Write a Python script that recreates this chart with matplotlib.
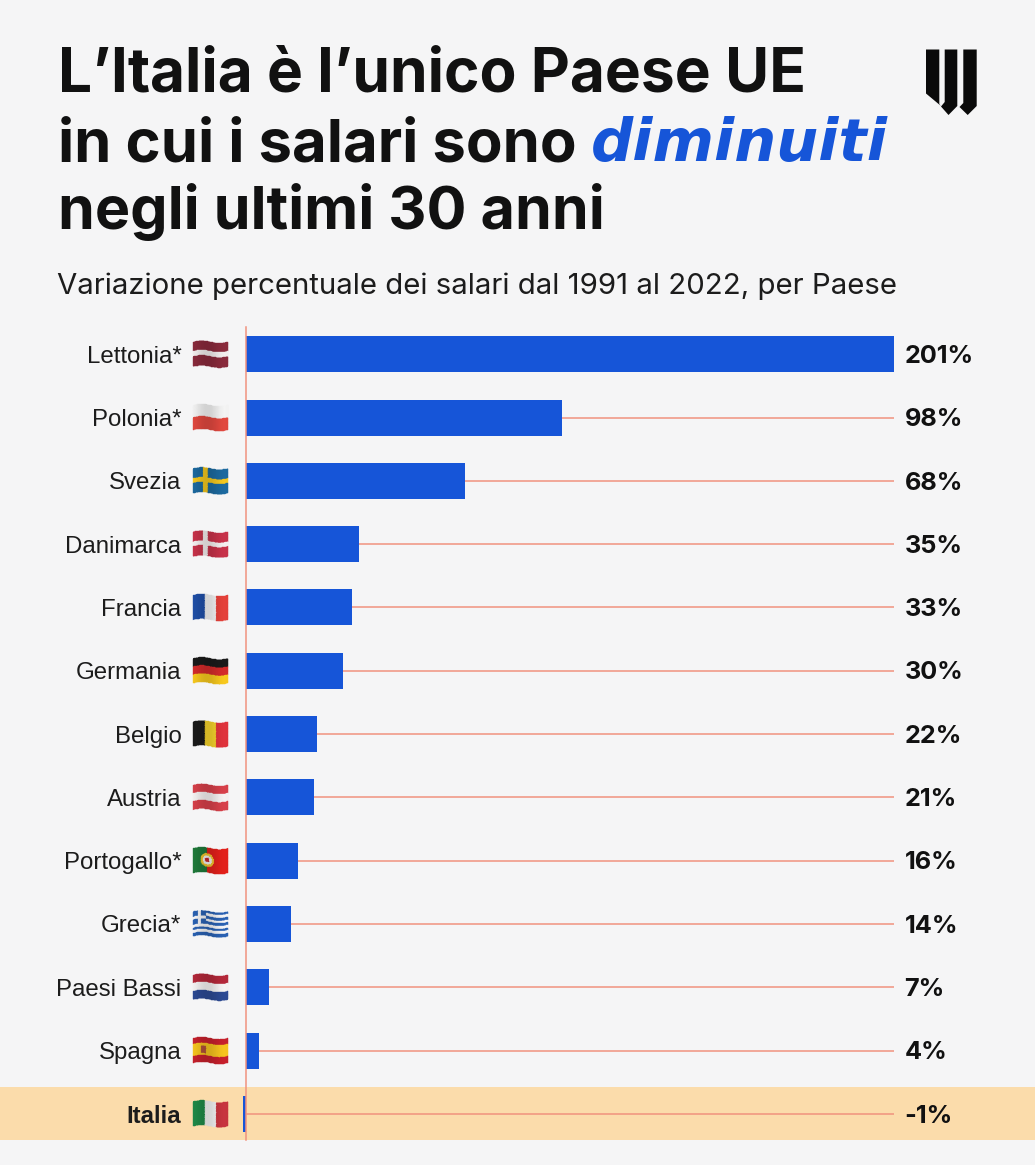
import numpy as np
import matplotlib
matplotlib.use("Agg")
import matplotlib.pyplot as plt
from matplotlib.patches import Polygon, Rectangle

W, H = 1035, 1165
BG = "#f5f5f6"
BLUE = "#1655d8"
LINE = "#f0927e"
BAND = "#fbdcab"
INK = "#111111"

countries = ["Lettonia*", "Polonia*", "Svezia", "Danimarca", "Francia", "Germania",
             "Belgio", "Austria", "Portogallo*", "Grecia*", "Paesi Bassi", "Spagna", "Italia"]
values = [201, 98, 68, 35, 33, 30, 22, 21, 16, 14, 7, 4, -1]
value_labels = ["201%", "98%", "68%", "35%", "33%", "30%", "22%", "21%", "16%", "14%", "7%", "4%", "-1%"]
flag_codes = ["lv", "pl", "se", "dk", "fr", "de", "be", "at", "pt", "gr", "nl", "es", "it"]

title_font = "Inter"
body_font = "Liberation Sans"
value_font = "Inter"


def flag_image(code):
    # paints the flag on a small grid, warped afterwards
    h, w = 42, 60
    img = np.ones((h, w, 3))
    def rgb(c):
        return np.array(matplotlib.colors.to_rgb(c))
    def hstripes(cols, fr=None):
        fr = fr or [1] * len(cols)
        edges = np.cumsum([0] + fr) / sum(fr) * h
        for k, c in enumerate(cols):
            img[int(edges[k]):int(edges[k + 1]), :] = rgb(c)
    def vstripes(cols):
        edges = np.linspace(0, w, len(cols) + 1).astype(int)
        for k, c in enumerate(cols):
            img[:, edges[k]:edges[k + 1]] = rgb(c)
    def cross(bg, c):
        img[:, :] = rgb(bg)
        img[17:25, :] = rgb(c)
        img[:, 17:25] = rgb(c)

    if code == "lv":
        hstripes(["#8a2a3c", "#f3eeee", "#8a2a3c"], [2, 1, 2])
    elif code == "pl":
        hstripes(["#f4f4f4", "#e2483f"])
    elif code == "se":
        cross("#1c6aa0", "#f5c81e")
    elif code == "dk":
        cross("#c8324a", "#f5f0f0")
    elif code == "fr":
        vstripes(["#1f4fa8", "#f7f7f7", "#e5413a"])
    elif code == "de":
        hstripes(["#1a1a1a", "#d42a2a", "#f8c91d"])
    elif code == "be":
        vstripes(["#1a1a1a", "#f8d52c", "#e0333c"])
    elif code == "at":
        hstripes(["#d8404a", "#f6f2f2", "#d8404a"])
    elif code == "pt":
        img[:, :] = rgb("#e3201b")
        img[:, :24] = rgb("#1f7a3a")
        yy, xx = np.mgrid[0:h, 0:w]
        r = np.hypot(xx - 24, yy - 21)
        img[r < 12] = rgb("#f2c62e")
        img[r < 8] = rgb("#f4f4f4")
        img[r < 4] = rgb("#c8242a")
    elif code == "gr":
        for k in range(9):
            y0 = int(k * h / 9)
            y1 = int((k + 1) * h / 9)
            img[y0:y1, :] = rgb("#2a62b4" if k % 2 == 0 else "#f6f6f8")
        img[:23, :23] = rgb("#2a62b4")
        img[:23, 9:14] = rgb("#f6f6f8")
        img[9:14, :23] = rgb("#f6f6f8")
    elif code == "nl":
        hstripes(["#b5283a", "#f6f4f4", "#2c4a94"])
    elif code == "es":
        hstripes(["#c7202c", "#f7c51e", "#c7202c"], [1, 2, 1])
        img[15:28, 14:23] = rgb("#b0503a")
    elif code == "it":
        vstripes(["#1f8a48", "#f7f7f7", "#c8343f"])
    return img


def draw_flag(ax, code, xc, yc):
    # little waving flag, 36x26 px
    img = flag_image(code)
    h, w = img.shape[:2]
    xs = np.linspace(-17.5, 17.5, w + 1)
    ys = np.linspace(-12.2, 12.2, h + 1)
    X, Y = np.meshgrid(xs, ys)
    Y = Y - 1.2 * np.sin((X + 17.5) / 35 * 2 * np.pi)
    shade = 0.93 + 0.07 * np.cos((X[:-1, :-1] + 17.5) / 35 * 2 * np.pi + 0.6)
    ax.pcolormesh(xc + X, yc + Y, np.clip(img * shade[..., None], 0, 1),
                  shading="flat", edgecolors="face", linewidth=0.25, antialiased=True)


fig = plt.figure(figsize=(W / 100, H / 100), dpi=100, facecolor=BG)

bg = fig.add_axes([0, 0, 1, 1], zorder=0)
bg.set_xlim(0, W)
bg.set_ylim(H, 0)
bg.axis("off")

# band behind Italia
bg.add_patch(Rectangle((0, 1087), W, 53, color=BAND, lw=0))

# title
bg.text(58, 92, "L’Italia è l’unico Paese UE", fontsize=43.5, fontweight="bold", family=title_font, color=INK, va="baseline")
bg.text(58, 161, "in cui i salari sono", fontsize=43.1, fontweight="bold", family=title_font, color=INK, va="baseline")
bg.text(591, 161, "diminuiti", fontsize=42.5, fontweight="bold", style="italic", family="DejaVu Sans", color=BLUE, va="baseline")
bg.text(58, 229, "negli ultimi 30 anni", fontsize=42.6, fontweight="bold", family=title_font, color=INK, va="baseline")
bg.text(57, 294, "Variazione percentuale dei salari dal 1991 al 2022, per Paese",
        fontsize=21.15, family=title_font, color="#1c1c1c", va="baseline")

# logo
for pts in [
    [(926, 49.5), (939.3, 49.5), (939.3, 104), (941, 106), (926, 93.5)],
    [(944.7, 49.5), (957.3, 49.5), (957.3, 106), (948.5, 115), (941, 106.5), (944.7, 102)],
    [(963.3, 49.5), (976.7, 49.5), (976.7, 106), (967.7, 115), (959.5, 107), (963.3, 103)],
]:
    bg.add_patch(Polygon(pts, closed=True, color="#0a0a0a", lw=0))

# main chart
top, bottom = 327, 1140
row0, pitch = 354.2, 63.3
ax = fig.add_axes([246 / W, 1 - bottom / H, (893.5 - 246) / W, (bottom - top) / H], zorder=1)
ax.patch.set_alpha(0)
ax.set_xlim(0, 201)
ax.set_ylim((bottom - row0) / pitch, (top - row0) / pitch)
y = np.arange(len(countries))

ax.hlines(y, np.maximum(values, 0), 201, color=LINE, lw=1.1, zorder=1)
ax.barh(y, values, height=36 / pitch, color=BLUE, zorder=2, clip_on=False)

for s in ["top", "right", "bottom"]:
    ax.spines[s].set_visible(False)
ax.spines["left"].set_color(LINE)
ax.spines["left"].set_linewidth(1.1)
ax.spines["left"].set_zorder(3)
ax.set_xticks([])
ax.set_yticks(y)
ax.set_yticklabels(countries, fontsize=17.3, family=body_font, color="#1c1c1c", va="center_baseline")
ax.tick_params(axis="y", length=0, pad=46.5)
ax.get_yticklabels()[-1].set_fontweight("bold")

for i, lab in enumerate(value_labels):
    ax.annotate(lab, (201, i), xytext=(8, -1.6), textcoords="offset points", ha="left", va="center",
                fontsize=18.2, fontweight="bold", family=value_font, color=INK)

for i, code in enumerate(flag_codes):
    draw_flag(bg, code, 210.5, row0 + pitch * i)

fig.savefig("out.png", dpi=100, facecolor=BG)
